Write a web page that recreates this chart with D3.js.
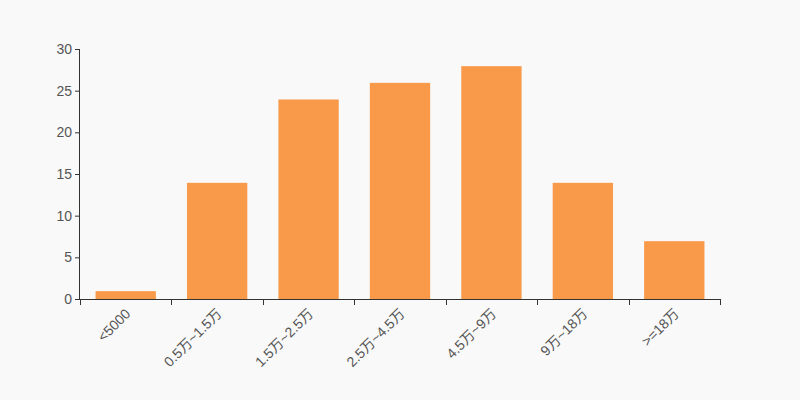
<!DOCTYPE html>
<html><head><meta charset="utf-8">
<script src="https://cdn.jsdelivr.net/npm/d3@7"></script>
<style>body{margin:0;background:#f9f9f9;}svg{display:block;}</style>
</head><body>
<svg id="c" width="800" height="400"></svg>
<script>
const categories = ["<5000","0.5万~1.5万","1.5万~2.5万","2.5万~4.5万","4.5万~9万","9万~18万",">=18万"];
const values = [1,14,24,26,28,14,7];
const yTicks = [0,5,10,15,20,25,30];

const svg = d3.select("#c");
const W=800,H=400, m={l:80,r:80,t:49,b:101};
svg.append("rect").attr("width",W).attr("height",H).attr("fill","#f9f9f9");
const x = d3.scaleBand().domain(categories).range([m.l,W-m.r]).paddingInner(0.34).paddingOuter(0.17);
const y = d3.scaleLinear().domain([0,30]).range([H-m.b,m.t]);
const font = "'Liberation Sans', Arial, 'Noto Sans CJK SC', sans-serif";
const tc = "#555";

svg.append("g").selectAll("rect").data(values).join("rect")
  .attr("x",(d,i)=>x(categories[i])).attr("width",x.bandwidth())
  .attr("y",d=>y(d)+0.5).attr("height",d=>y(0)-y(d)).attr("fill","#f89a4a");

// y axis
const ya = svg.append("g").attr("transform",`translate(${m.l},0)`)
  .call(d3.axisLeft(y).tickValues(yTicks).tickSize(5).tickPadding(3));
ya.select(".domain").attr("stroke","#333").attr("d",`M-0.5,${y(0)+0.5}V${y(30)}`);
ya.selectAll(".tick line").attr("stroke","#333");
ya.selectAll("text").attr("fill",tc).style("font-family",font).style("font-size","14px");

// x axis
const xa = svg.append("g");
xa.append("line").attr("x1",m.l-0.5).attr("x2",W-m.r+0.5).attr("y1",y(0)+0.5).attr("y2",y(0)+0.5).attr("stroke","#333");
const step = x.step();
const bounds = d3.range(categories.length+1).map(i=> i<categories.length ? x(categories[i]) - step*x.paddingInner()/2 : x(categories[i-1]) + x.bandwidth() + step*x.paddingInner()/2);
xa.selectAll("line.t").data(bounds).join("line").attr("class","t")
  .attr("x1",d=>Math.round(d)+0.5).attr("x2",d=>Math.round(d)+0.5).attr("y1",y(0)).attr("y2",y(0)+6).attr("stroke","#333");
xa.selectAll("text").data(categories).join("text")
  .attr("transform",d=>`translate(${x(d)+x.bandwidth()/2+3},${y(0)+13}) rotate(-45)`)
  .attr("text-anchor","end").attr("dominant-baseline","middle")
  .attr("fill",tc).style("font-family",font).style("font-size","14px").text(d=>d);
</script>
</body></html>
